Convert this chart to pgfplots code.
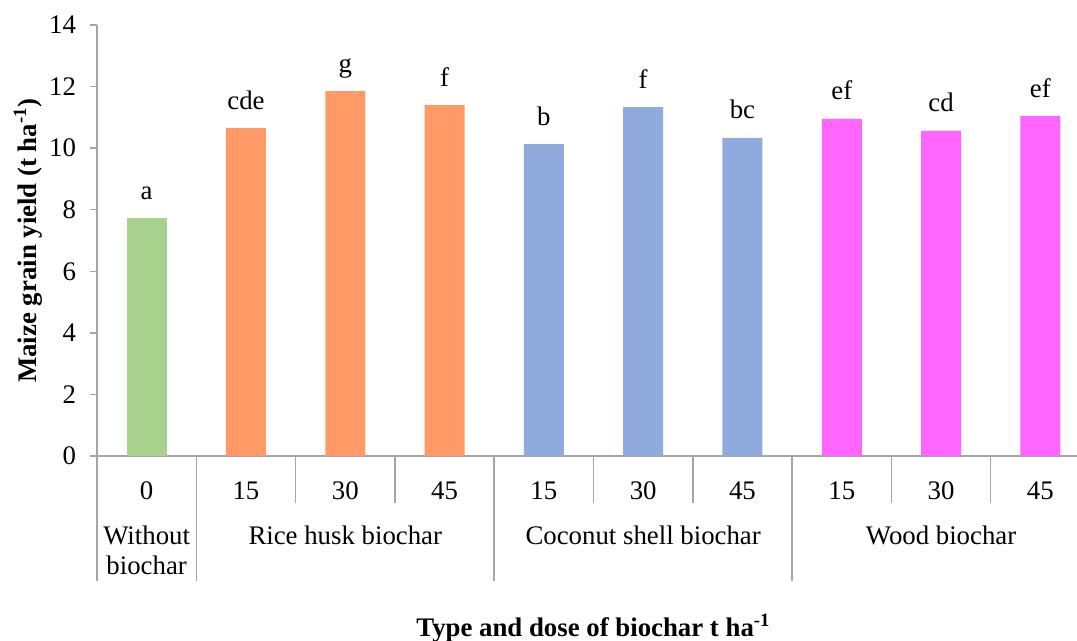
\documentclass[border=0pt]{standalone}
\usepackage{pgfplots}
\pgfplotsset{compat=1.18}
\usepackage{fontspec}
\setmainfont{Liberation Serif}
\definecolor{cgreen}{HTML}{A9D18E}
\definecolor{corange}{HTML}{FF9966}
\definecolor{cblue}{HTML}{8FAADC}
\definecolor{cmag}{HTML}{FF66FF}
\definecolor{axgray}{HTML}{A6A6A6}
\begin{document}
\begin{tikzpicture}[font=\fontsize{13.4}{15}\selectfont]
\begin{axis}[
  at={(0pt,0pt)}, anchor=south west,
  scale only axis, width=496.5pt, height=215.5pt,
  xmin=-0.5, xmax=9.5, ymin=0, ymax=14,
  axis lines*=left,
  axis line style={draw=axgray, line width=0.75pt},
  ytick={0,2,...,14},
  xtick={0,...,9},
  xticklabels={0,15,30,45,15,30,45,15,30,45},
  tick align=outside,
  major tick length=3.5pt,
  x tick style={draw=none},
  y tick style={draw=axgray, line width=0.75pt},
  xticklabel style={yshift=-6pt},
  yticklabel style={xshift=-3.5pt},
  /pgf/number format/assume math mode=true,
  tick label style={font=\fontsize{13.4}{15}\selectfont},
  clip=false,
  point meta=explicit symbolic,
  nodes near coords,
  nodes near coords style={anchor=base, yshift=9.5pt, font=\fontsize{13.4}{15}\selectfont},
]
\addplot[ybar, bar width=20pt, bar shift=0pt, fill=cgreen, draw=none] coordinates {(0,7.73) [a]};
\addplot[ybar, bar width=20pt, bar shift=0pt, fill=corange, draw=none] coordinates {(1,10.65) [cde] (2,11.85) [g] (3,11.40) [f]};
\addplot[ybar, bar width=20pt, bar shift=0pt, fill=cblue, draw=none] coordinates {(4,10.13) [b] (5,11.33) [f] (6,10.33) [bc]};
\addplot[ybar, bar width=20pt, bar shift=0pt, fill=cmag, draw=none] coordinates {(7,10.95) [ef] (8,10.56) [cd] (9,11.04) [ef]};
\pgfplotsinvokeforeach{1.5,2.5,4.5,5.5,7.5,8.5}{\draw[axgray, line width=0.75pt] (axis cs:#1,0) -- ++(0pt,-23.5pt);}
\pgfplotsinvokeforeach{-0.5,0.5,3.5,6.5}{\draw[axgray, line width=0.75pt] (axis cs:#1,0) -- ++(0pt,-62.5pt);}
\node[align=center, anchor=center] at ([yshift=-47pt]axis cs:0,0) {Without\\biochar};
\node[anchor=center] at ([yshift=-39.5pt]axis cs:2,0) {Rice husk biochar};
\node[anchor=center] at ([yshift=-39.5pt]axis cs:5,0) {Coconut shell biochar};
\node[anchor=center] at ([yshift=-39.5pt]axis cs:8,0) {Wood biochar};
\node[anchor=center] at ([yshift=-86pt]axis cs:4.5,0) {\textbf{Type and dose of biochar t ha\textsuperscript{-1}}};
\node[anchor=center, rotate=90] at ([xshift=-34.5pt]rel axis cs:0,0.5) {\textbf{Maize grain yield (t ha\textsuperscript{-1})}};
\end{axis}
\pgfresetboundingbox
\useasboundingbox (-48.5pt,-92.5pt) rectangle (490pt,228pt);
\end{tikzpicture}
\end{document}
